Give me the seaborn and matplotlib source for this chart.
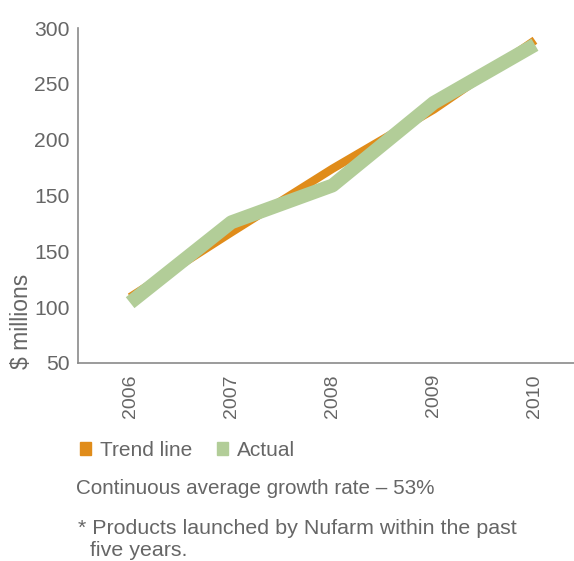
import matplotlib
matplotlib.use("Agg")
import matplotlib.pyplot as plt
from matplotlib.patches import Patch
import seaborn as sns
import pandas as pd

# Data (axis positions 50..350, labelled as printed)
years = ["2006", "2007", "2008", "2009", "2010"]
trend = [109, 167, 224, 277, 339]
actual = [104, 176, 209, 283, 335]
ytick_vals = [50, 100, 150, 200, 250, 300, 350]
ytick_labels = ["50", "100", "150", "150", "200", "250", "300"]

ORANGE = "#E08C1A"
GREEN = "#B2CD98"
GREY = "#666666"

sns.set_theme(style="white")
plt.rcParams["font.family"] = ["Liberation Sans", "DejaVu Sans"]

df = pd.DataFrame({
    "x": list(range(len(years))) * 2,
    "value": trend + actual,
    "series": ["Trend line"] * len(years) + ["Actual"] * len(years),
})

fig = plt.figure(figsize=(5.74, 5.61), dpi=100)
ax = fig.add_axes([78 / 574, 1 - 363 / 561, 1 - 78 / 574, (363 - 28) / 561])

sns.lineplot(data=df[df.series == "Trend line"], x="x", y="value", color=ORANGE,
             linewidth=6, ax=ax, legend=False, solid_capstyle="butt")
sns.lineplot(data=df[df.series == "Actual"], x="x", y="value", color=GREEN,
             linewidth=10, ax=ax, legend=False, solid_capstyle="butt")

ax.set_xlim(-0.515, 4.386)
ax.set_ylim(50, 350)
ax.set_xticks(range(len(years)))
ax.set_xticklabels(years, rotation=90, fontsize=14, color=GREY)
ax.set_yticks(ytick_vals)
ax.set_yticklabels(ytick_labels, fontsize=15.2, color=GREY)
ax.tick_params(axis="y", length=0, pad=6)
ax.tick_params(axis="x", length=0, pad=8)
ax.set_xlabel("")
ax.set_ylabel("")
for s in ["top", "right"]:
    ax.spines[s].set_visible(False)
for s in ["left", "bottom"]:
    ax.spines[s].set_color("#8a8a8a")
    ax.spines[s].set_linewidth(1.2)

fig.text(0.018, 1 - 369 / 561, "$ millions", rotation=90, fontsize=16.5,
         color=GREY, ha="left", va="bottom")

handles = [Patch(color=ORANGE, label="Trend line"), Patch(color=GREEN, label="Actual")]
leg = fig.legend(handles=handles, loc="upper left", bbox_to_anchor=(61 / 574, 1 - 422 / 561),
                 ncol=2, frameon=False, fontsize=15, handlelength=0.55, handleheight=0.55,
                 handletextpad=0.4, columnspacing=1.2)
for t in leg.get_texts():
    t.set_color(GREY)

fig.text(76 / 574, 1 - 488 / 561, "Continuous average growth rate \u2013 53%",
         fontsize=14.9, color=GREY, va="center", ha="left")
fig.text(78 / 574, 1 - 528 / 561, "* Products launched by Nufarm within the past",
         fontsize=15.4, color=GREY, va="center", ha="left")
fig.text(90 / 574, 1 - 550 / 561, "five years.",
         fontsize=15.4, color=GREY, va="center", ha="left")

fig.savefig("out.png", dpi=100)
